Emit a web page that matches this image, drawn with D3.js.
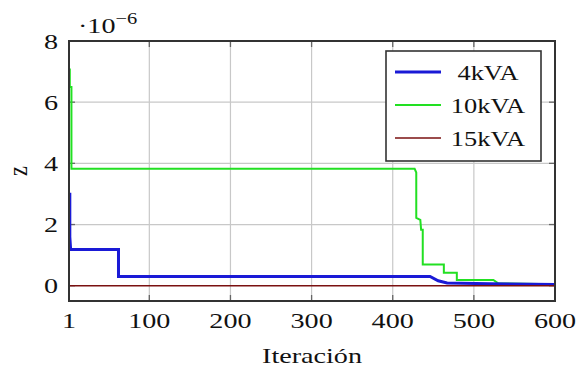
<!DOCTYPE html>
<html>
<head>
<meta charset="utf-8">
<script src="https://cdn.jsdelivr.net/npm/d3@7"></script>
<style>
  body { margin: 0; background: #fff; }
  text { font-family: "Liberation Serif", "DejaVu Serif", serif; fill: #111; }
</style>
</head>
<body>
<div id="chart"></div>
<script>
// ---- data ----
const seriesNames = ["4kVA", "10kVA", "15kVA"];
const seriesColors = ["#1a1ad6", "#22e022", "#7a1010"];
const seriesWidths = [3, 2, 1.6];

// iteration / z (x1e-6) pairs, step corners
const iter4kVA = [2, 2, 3, 62, 62, 446, 456, 467, 520, 600];
const z4kVA    = [3.04, 1.6, 1.18, 1.18, 0.30, 0.30, 0.16, 0.09, 0.06, 0.04];

const iter10kVA = [2, 2, 4, 4, 427, 429, 429, 434, 435, 437, 437, 463, 463, 479, 479, 524, 530, 600];
const z10kVA    = [7.1, 6.5, 6.5, 3.82, 3.82, 3.7, 2.22, 2.15, 1.83, 1.83, 0.69, 0.69, 0.42, 0.42, 0.19, 0.19, 0.08, 0.05];

const iter15kVA = [1, 600];
const z15kVA    = [0, 0];

const xTicks = [1, 100, 200, 300, 400, 500, 600];
const yTicks = [0, 2, 4, 6, 8];

const seriesIters = [iter4kVA, iter10kVA, iter15kVA];
const seriesZ = [z4kVA, z10kVA, z15kVA];

// ---- layout ----
const W = 577, H = 368;
const plot = {left: 69, right: 555, top: 41, bottom: 301};
const stretch = 1.28;   // text in the picture is wide

const svg = d3.select("#chart").append("svg")
    .attr("width", W)
    .attr("height", H);

const x = d3.scaleLinear().domain([1, 600]).range([plot.left, plot.right]);
const y = d3.scaleLinear().domain([-0.5, 8]).range([plot.bottom, plot.top]);

// grid
svg.append("g").selectAll("line.vg")
    .data(xTicks.filter(d => d > 1 && d < 600))
    .enter().append("line")
    .attr("x1", d => x(d)).attr("x2", d => x(d))
    .attr("y1", plot.top).attr("y2", plot.bottom)
    .attr("stroke", "#c8c8c8").attr("stroke-width", 1.2);

svg.append("g").selectAll("line.hg")
    .data(yTicks.filter(d => d > 0 && d < 8))
    .enter().append("line")
    .attr("x1", plot.left).attr("x2", plot.right)
    .attr("y1", d => y(d)).attr("y2", d => y(d))
    .attr("stroke", "#c8c8c8").attr("stroke-width", 1.2);

// inward ticks on all four sides
const tickLen = 6;
const tickG = svg.append("g").attr("stroke", "#666").attr("stroke-width", 1.3);
xTicks.forEach(d => {
    tickG.append("line").attr("x1", x(d)).attr("x2", x(d)).attr("y1", plot.bottom).attr("y2", plot.bottom - tickLen);
    tickG.append("line").attr("x1", x(d)).attr("x2", x(d)).attr("y1", plot.top).attr("y2", plot.top + tickLen);
});
yTicks.forEach(d => {
    tickG.append("line").attr("x1", plot.left).attr("x2", plot.left + tickLen).attr("y1", y(d)).attr("y2", y(d));
    tickG.append("line").attr("x1", plot.right).attr("x2", plot.right - tickLen).attr("y1", y(d)).attr("y2", y(d));
});

// lines
const line = d3.line()
    .x(d => x(d[0]))
    .y(d => y(d[1]));

// red lies on top at zero in the picture
const drawOrder = [1, 0, 2];
drawOrder.forEach(i => {
    const pts = seriesIters[i].map((it, k) => [it, seriesZ[i][k]]);
    svg.append("path")
        .datum(pts)
        .attr("fill", "none")
        .attr("stroke", seriesColors[i])
        .attr("stroke-width", seriesWidths[i])
        .attr("stroke-linejoin", "miter")
        .attr("d", line);
});

// frame
svg.append("rect")
    .attr("x", plot.left).attr("y", plot.top)
    .attr("width", plot.right - plot.left)
    .attr("height", plot.bottom - plot.top)
    .attr("fill", "none")
    .attr("stroke", "#333")
    .attr("stroke-width", 2);

// tick labels
const fs = 22;
svg.append("g").selectAll("text")
    .data(xTicks)
    .enter().append("text")
    .attr("transform", d => `translate(${x(d)},${plot.bottom + 27}) scale(${stretch},1)`)
    .attr("text-anchor", "middle")
    .attr("font-size", fs)
    .text(d => d);

svg.append("g").selectAll("text")
    .data(yTicks)
    .enter().append("text")
    .attr("transform", d => `translate(${plot.left - 11},${y(d) + 7.5}) scale(${stretch},1)`)
    .attr("text-anchor", "end")
    .attr("font-size", fs)
    .text(d => d);

// multiplier ·10^-6
const mult = svg.append("text")
    .attr("transform", `translate(78,33) scale(${stretch},1)`)
    .attr("font-size", fs);
mult.append("tspan").text("·10");
mult.append("tspan").attr("font-size", 16).attr("dy", -9).text("−6");

// axis titles
svg.append("text")
    .attr("transform", `translate(${(plot.left + plot.right) / 2},${plot.bottom + 62}) scale(${stretch},1)`)
    .attr("text-anchor", "middle")
    .attr("font-size", fs)
    .text("Iteración");

svg.append("text")
    .attr("transform", `translate(27,${(plot.top + plot.bottom) / 2}) rotate(-90) scale(1,${stretch})`)
    .attr("text-anchor", "middle")
    .attr("font-size", fs)
    .text("z");

// legend
const legend = svg.append("g");
legend.append("rect")
    .attr("x", 386).attr("y", 51)
    .attr("width", 155).attr("height", 110)
    .attr("fill", "#fff")
    .attr("stroke", "#333")
    .attr("stroke-width", 1.6);

seriesNames.forEach((name, i) => {
    const ly = 72 + i * 33;
    legend.append("line")
        .attr("x1", 395).attr("x2", 441)
        .attr("y1", ly).attr("y2", ly)
        .attr("stroke", seriesColors[i])
        .attr("stroke-width", seriesWidths[i]);
    legend.append("text")
        .attr("transform", `translate(488,${ly + 8}) scale(1.2,1)`)
        .attr("text-anchor", "middle")
        .attr("font-size", fs)
        .text(name);
});
</script>
</body>
</html>
